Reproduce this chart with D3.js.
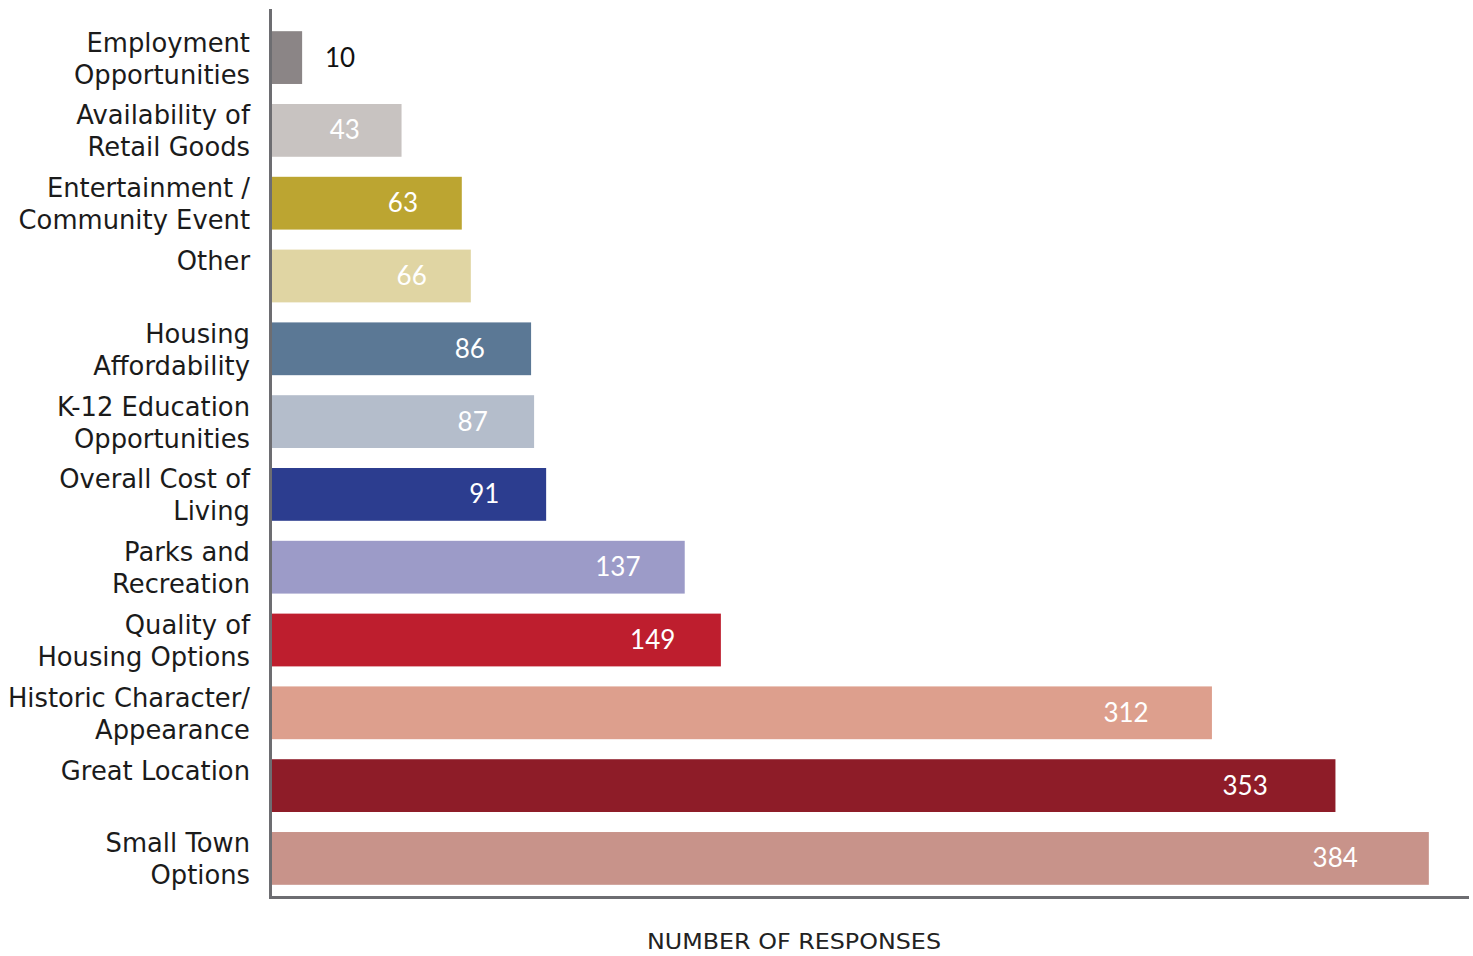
<!DOCTYPE html>
<html>
<head>
<meta charset="utf-8">
<script src="https://cdn.jsdelivr.net/npm/d3@7"></script>
<style>
  html, body { margin: 0; padding: 0; background: #ffffff; }
  svg { display: block; }
</style>
</head>
<body>
<svg id="chart" width="1473" height="956"></svg>
<script>
// Survey: reasons respondents like living here (number of responses)
const categories = [
  ["Employment", "Opportunities"],
  ["Availability of", "Retail Goods"],
  ["Entertainment /", "Community Event"],
  ["Other"],
  ["Housing", "Affordability"],
  ["K-12 Education", "Opportunities"],
  ["Overall Cost of", "Living"],
  ["Parks and", "Recreation"],
  ["Quality of", "Housing Options"],
  ["Historic Character/", "Appearance"],
  ["Great Location"],
  ["Small Town", "Options"]
];
const responses = [10, 43, 63, 66, 86, 87, 91, 137, 149, 312, 353, 384];
const barColors = [
  "#8b8586", "#c8c3c1", "#bca531", "#e0d5a3", "#5b7895", "#b4bdcb",
  "#2c3d8f", "#9c9bc8", "#be1e2e", "#dd9f8d", "#8e1c28", "#c8938a"
];
const axisTitle = "NUMBER OF RESPONSES";

const svg = d3.select("#chart");
const keys = categories.map(c => c.join(" "));

const x = d3.scaleLinear().domain([0, 397]).range([272, 1468]);
const y = d3.scaleBand().domain(keys).range([21, 895]).paddingInner(0.275).paddingOuter(0.14);

const labelFont = "'DejaVu Sans', sans-serif";
const valueFont = "Lato, 'Open Sans', sans-serif";

// bars
svg.append("g").selectAll("rect")
  .data(responses)
  .join("rect")
  .attr("x", x(0))
  .attr("y", (d, i) => y(keys[i]))
  .attr("width", d => x(d) - x(0))
  .attr("height", y.bandwidth())
  .attr("fill", (d, i) => barColors[i]);

// category labels (right aligned, first line kept at the same height)
const lab = svg.append("g")
  .attr("font-family", labelFont)
  .attr("font-size", 25.8)
  .attr("fill", "#1b1b1b")
  .attr("text-anchor", "end");
categories.forEach((lines, i) => {
  const c = y(keys[i]) + y.bandwidth() / 2;
  lines.forEach((ln, j) => {
    lab.append("text")
      .attr("x", 250)
      .attr("y", c - 15 + j * 32)
      .attr("dominant-baseline", "central")
      .text(ln);
  });
});

// value labels
const vals = svg.append("g")
  .attr("font-family", valueFont)
  .attr("font-size", 26)
  .attr("text-anchor", "middle");
responses.forEach((v, i) => {
  const c = y(keys[i]) + y.bandwidth() / 2;
  const w = x(v) - x(0);
  const inside = w > 60;
  const cx = inside ? x(v) - (52 + 0.036 * w) : x(v) + 38;
  vals.append("text")
    .attr("x", cx)
    .attr("y", c - 1)
    .attr("dominant-baseline", "central")
    .attr("fill", inside ? "#ffffff" : "#111111")
    .text(v);
});

// axis lines
const axisColor = "#6d6d71";
svg.append("line")
  .attr("x1", 270.5).attr("x2", 270.5)
  .attr("y1", 9).attr("y2", 899)
  .attr("stroke", axisColor).attr("stroke-width", 3);
svg.append("line")
  .attr("x1", 269).attr("x2", 1469)
  .attr("y1", 897.5).attr("y2", 897.5)
  .attr("stroke", axisColor).attr("stroke-width", 3);

// axis title
svg.append("text")
  .attr("x", 794)
  .attr("y", 941)
  .attr("text-anchor", "middle")
  .attr("dominant-baseline", "central")
  .attr("font-family", labelFont)
  .attr("font-size", 22)
  .attr("fill", "#222222")
  .attr("textLength", 294)
  .attr("lengthAdjust", "spacingAndGlyphs")
  .text(axisTitle);
</script>
</body>
</html>
